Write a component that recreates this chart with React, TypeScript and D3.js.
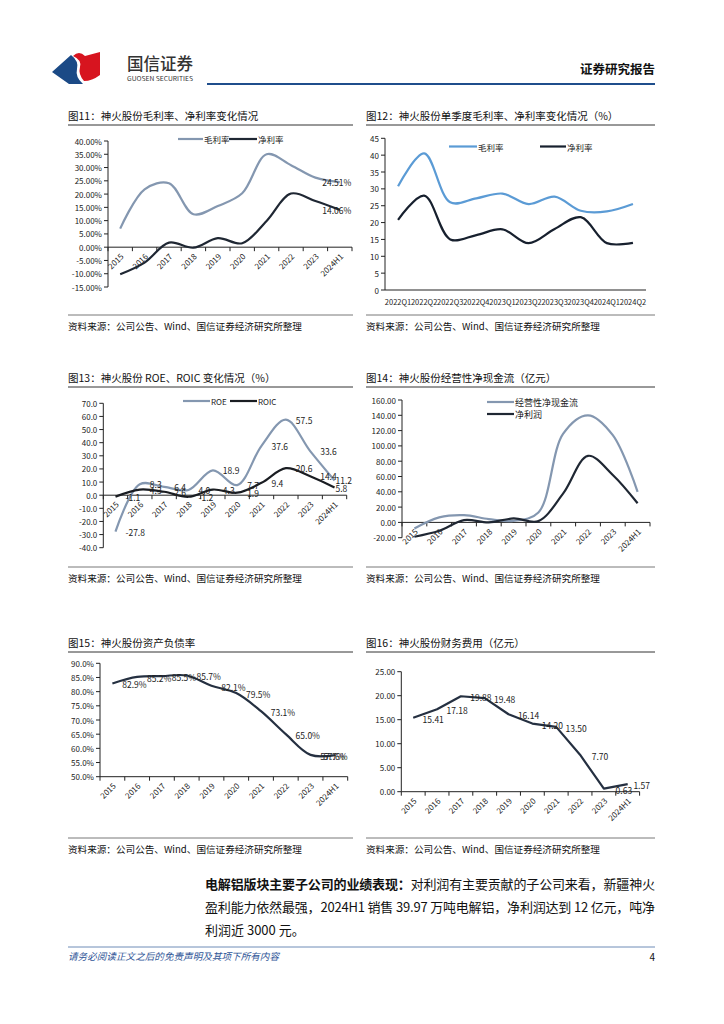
import React from "react";
import * as d3 from "d3";

const FONT = '"Noto Sans CJK SC", "Noto Sans", sans-serif';

// ---------- data ----------
const years = ["2015", "2016", "2017", "2018", "2019", "2020", "2021", "2022", "2023", "2024H1"];
const grossMarginAnnual = [7.0, 21.8, 24.1, 12.4, 15.5, 20.3, 35.0, 30.9, 26.2, 24.51];
const netMarginAnnual = [-10.2, -5.8, 1.7, -0.2, 3.4, 1.5, 9.9, 20.2, 17.4, 14.06];

const quarters = ["2022Q1", "2022Q2", "2022Q3", "2022Q4", "2023Q1", "2023Q2", "2023Q3", "2023Q4", "2024Q1", "2024Q2"];
const grossMarginQ = [30.8, 40.5, 26.0, 27.2, 28.6, 25.5, 27.7, 23.5, 23.3, 25.5];
const netMarginQ = [20.8, 28.0, 15.0, 16.3, 18.0, 13.9, 18.1, 21.6, 13.9, 14.0];

const roe = [-27.8, 8.3, 6.4, 4.0, 18.9, 7.7, 37.6, 57.5, 33.6, 11.2];
const roic = [-1.1, 4.3, 2.6, -1.2, 4.3, 1.9, 9.4, 20.6, 14.4, 5.8];

const opCashFlow = [-8, 6.5, 9.5, 4.3, 2, 13, 116, 140, 114, 40];
const netProfit = [-18.8, -11, 3, 0, 5.2, 1.7, 38, 87, 62, 25];

const debtRatio = [82.9, 85.2, 85.5, 85.7, 82.1, 79.5, 73.1, 65.0, 57.7, 57.6];
const financeCost = [15.41, 17.18, 19.88, 19.48, 16.14, 14.2, 13.5, 7.7, 0.63, 1.57];

const sourceText = "资料来源：公司公告、Wind、国信证券经济研究所整理";

// ---------- chart component ----------
type Lbl = {
  fmt: (v: number) => string;
  dx: number;
  dy: number;
  anchor: "start" | "middle";
  only?: number[];
  lastDx?: number;
};
type SeriesSpec = { values: number[]; color: string; width: number; smooth: boolean; label?: Lbl };

interface ChartProps {
  cats: string[];
  x0: number;
  x1: number;
  yTop: number;
  yBot: number;
  domain: [number, number];
  step: number;
  tickFmt: (v: number) => string;
  series: SeriesSpec[];
  xLabels: "rotated" | "flat";
  xTicks: boolean;
}

function Chart(p: ChartProps) {
  const x = d3.scaleBand<string>().domain(p.cats).range([p.x0, p.x1]);
  const y = d3.scaleLinear().domain(p.domain).range([p.yBot, p.yTop]);
  const ticks = d3.range(p.domain[0], p.domain[1] + p.step / 2, p.step);
  const axisY = y(Math.max(0, p.domain[0]));
  const cx = (c: string) => (x(c) as number) + x.bandwidth() / 2;
  const bounds = [...p.cats.map((c) => x(c) as number), p.x1];
  const n = p.cats.length;
  return (
    <g fontFamily={FONT}>
      {/* y axis */}
      <line x1={p.x0} x2={p.x0} y1={p.yTop} y2={p.yBot} stroke="#222" strokeWidth={1} />
      {ticks.map((t) => (
        <g key={t}>
          <line x1={p.x0 - 4} x2={p.x0} y1={y(t)} y2={y(t)} stroke="#222" strokeWidth={1} />
          <text x={p.x0 - 6} y={y(t)} fontSize={8} textAnchor="end" dominantBaseline="central" fill="#222">
            {p.tickFmt(t)}
          </text>
        </g>
      ))}
      {/* x axis */}
      <line x1={p.x0} x2={p.x1} y1={axisY} y2={axisY} stroke="#222" strokeWidth={1} />
      {p.xTicks &&
        bounds.map((b, i) => (
          <line key={i} x1={b} x2={b} y1={axisY} y2={axisY + 4} stroke="#222" strokeWidth={1} />
        ))}
      {p.cats.map((c) =>
        p.xLabels === "rotated" ? (
          <text
            key={c}
            x={cx(c) + 4}
            y={axisY + 10}
            fontSize={8}
            textAnchor="end"
            fill="#222"
            transform={`rotate(-45 ${cx(c) + 4} ${axisY + 10})`}
          >
            {c}
          </text>
        ) : (
          <text key={c} x={cx(c)} y={axisY + 15} fontSize={7.5} textAnchor="middle" fill="#222">
            {c}
          </text>
        )
      )}
      {/* series */}
      {p.series.map((s, si) => {
        const line = d3
          .line<number>()
          .x((_, i) => cx(p.cats[i]))
          .y((v) => y(v))
          .curve(s.smooth ? d3.curveCatmullRom.alpha(0.5) : d3.curveLinear);
        return (
          <path key={si} d={line(s.values) || ""} fill="none" stroke={s.color} strokeWidth={s.width} strokeLinejoin="round" />
        );
      })}
      {p.series.map((s, si) =>
        s.label
          ? s.values.map((v, i) => {
              const L = s.label!;
              if (L.only && !L.only.includes(i)) return null;
              const dx = i === n - 1 && L.lastDx !== undefined ? L.lastDx : L.dx;
              return (
                <text
                  key={`${si}-${i}`}
                  x={cx(p.cats[i]) + dx}
                  y={y(v) + L.dy}
                  fontSize={8.5}
                  textAnchor={L.anchor}
                  dominantBaseline="central"
                  fill="#222"
                >
                  {L.fmt(v)}
                </text>
              );
            })
          : null
      )}
    </g>
  );
}

function Legend({ x, y, color, label, len = 27, size = 8.5 }: { x: number; y: number; color: string; label: string; len?: number; size?: number }) {
  return (
    <g fontFamily={FONT}>
      <line x1={x} x2={x + len} y1={y} y2={y} stroke={color} strokeWidth={2.2} />
      <text x={x + len + 1} y={y} fontSize={size} dominantBaseline="central" fill="#222">
        {label}
      </text>
    </g>
  );
}

function Frame({ x, w, titleY, title, lineY, srcLineY }: { x: number; w: number; titleY: number; title: string; lineY: number; srcLineY: number }) {
  return (
    <g fontFamily={FONT}>
      <text x={x} y={titleY} fontSize={10.5} fill="#111">
        {title}
      </text>
      <line x1={x} x2={x + w} y1={lineY} y2={lineY} stroke="#333" strokeWidth={1} />
      <line x1={x} x2={x + w} y1={srcLineY} y2={srcLineY} stroke="#555" strokeWidth={0.8} />
      <text x={x} y={srcLineY + 15} fontSize={9.6} fill="#111">
        {sourceText}
      </text>
    </g>
  );
}

const GRAYBLUE = "#8497b0";
const DARK = "#1f2733";
const BRIGHTBLUE = "#5b9bd5";

export default function App() {
  const pct2 = (v: number) => v.toFixed(2) + "%";
  const pct1 = (v: number) => v.toFixed(1) + "%";
  const f1 = (v: number) => v.toFixed(1);
  const f2 = (v: number) => v.toFixed(2);
  const last = [years.length - 1];
  return (
    <svg
      width={724}
      height={1024}
      style={{ position: "absolute", left: 0, top: 0, background: "#fff" }}
      xmlns="http://www.w3.org/2000/svg"
    >
      <rect width={724} height={1024} fill="#fff" />
      {/* header */}
      <path d="M52,72 L71,55 Q79,61 77,69 Q75,77 83,84 L69,84 Z" fill="#1b4a86" />
      <path d="M73,56 Q79,50 85,56 L100,52 L100,75 Q92,81 84,81 Q78,74 80,67 Q82,60 73,56 Z" fill="#d7141f" />
      <text x={127} y={70} fontSize={17} fontFamily={FONT} fontWeight={500} fill="#333" textLength={66} lengthAdjust="spacingAndGlyphs">
        国信证券
      </text>
      <text x={127} y={81} fontSize={6} fontFamily={FONT} fill="#333" textLength={66} lengthAdjust="spacingAndGlyphs">
        GUOSEN SECURITIES
      </text>
      <text x={655} y={74} fontSize={12.5} fontFamily={FONT} fontWeight={700} fill="#111" textAnchor="end">
        证券研究报告
      </text>
      <line x1={207} x2={655} y1={84} y2={84} stroke="#1f4e8c" strokeWidth={2} />

      {/* Chart 11 */}
      <Frame x={68} w={285} titleY={120} title="图11：神火股份毛利率、净利率变化情况" lineY={125} srcLineY={315} />
      <Chart
        cats={years}
        x0={108}
        x1={352}
        yTop={141}
        yBot={287}
        domain={[-15, 40]}
        step={5}
        tickFmt={pct2}
        xLabels="rotated"
        xTicks
        series={[
          { values: grossMarginAnnual, color: GRAYBLUE, width: 2.2, smooth: true, label: { fmt: pct2, dx: -3, dy: 0, anchor: "middle", only: last } },
          { values: netMarginAnnual, color: DARK, width: 2.2, smooth: true, label: { fmt: pct2, dx: -3, dy: 0, anchor: "middle", only: last } },
        ]}
      />
      <Legend x={178} y={139} color={GRAYBLUE} label="毛利率" len={25} />
      <Legend x={229} y={139} color={DARK} label="净利率" len={28} />

      {/* Chart 12 */}
      <Frame x={366} w={289} titleY={120} title="图12：神火股份单季度毛利率、净利率变化情况（%）" lineY={125} srcLineY={315} />
      <Chart
        cats={quarters}
        x0={385}
        x1={646}
        yTop={138.3}
        yBot={290}
        domain={[0, 45]}
        step={5}
        tickFmt={(v) => String(v)}
        xLabels="flat"
        xTicks={false}
        series={[
          { values: grossMarginQ, color: BRIGHTBLUE, width: 2.2, smooth: true },
          { values: netMarginQ, color: "#17202e", width: 2.2, smooth: true },
        ]}
      />
      <Legend x={449} y={146.5} color={BRIGHTBLUE} label="毛利率" len={28} />
      <Legend x={540} y={146.5} color="#17202e" label="净利率" len={26} />

      {/* Chart 13 */}
      <Frame x={68} w={285} titleY={382} title="图13：神火股份 ROE、ROIC 变化情况（%）" lineY={387} srcLineY={567} />
      <Chart
        cats={years}
        x0={103.3}
        x1={346.7}
        yTop={403.3}
        yBot={547.7}
        domain={[-40, 70]}
        step={10}
        tickFmt={f1}
        xLabels="rotated"
        xTicks
        series={[
          { values: roe, color: GRAYBLUE, width: 2.2, smooth: true, label: { fmt: f1, dx: 10, dy: 0, anchor: "start", lastDx: 1 } },
          { values: roic, color: "#1a1d22", width: 2.2, smooth: true, label: { fmt: f1, dx: 10, dy: 0, anchor: "start", lastDx: 1 } },
        ]}
      />
      <Legend x={183} y={401} color={GRAYBLUE} label="ROE" len={27} size={8} />
      <Legend x={230} y={401} color="#1a1d22" label="ROIC" len={27} size={8} />

      {/* Chart 14 */}
      <Frame x={366} w={289} titleY={382} title="图14：神火股份经营性净现金流（亿元）" lineY={387} srcLineY={567} />
      <Chart
        cats={years}
        x0={402}
        x1={650}
        yTop={400}
        yBot={537.7}
        domain={[-20, 160]}
        step={20}
        tickFmt={f2}
        xLabels="rotated"
        xTicks
        series={[
          { values: opCashFlow, color: GRAYBLUE, width: 2.2, smooth: true },
          { values: netProfit, color: DARK, width: 2.2, smooth: true },
        ]}
      />
      <Legend x={487} y={402} color={GRAYBLUE} label="经营性净现金流" len={27} size={9} />
      <Legend x={487} y={414} color={DARK} label="净利润" len={27} size={9} />

      {/* Chart 15 */}
      <Frame x={68} w={285} titleY={647} title="图15：神火股份资产负债率" lineY={652} srcLineY={838} />
      <Chart
        cats={years}
        x0={100}
        x1={347.7}
        yTop={663.3}
        yBot={776.7}
        domain={[50, 90]}
        step={5}
        tickFmt={pct1}
        xLabels="rotated"
        xTicks
        series={[
          { values: debtRatio, color: "#253041", width: 2.2, smooth: true, label: { fmt: pct1, dx: 22, dy: 1, anchor: "middle", lastDx: 0 } },
        ]}
      />

      {/* Chart 16 */}
      <Frame x={366} w={289} titleY={647} title="图16：神火股份财务费用（亿元）" lineY={652} srcLineY={838} />
      <Chart
        cats={years}
        x0={401.3}
        x1={639.6}
        yTop={671.7}
        yBot={791.7}
        domain={[0, 25]}
        step={5}
        tickFmt={f2}
        xLabels="rotated"
        xTicks
        series={[
          { values: financeCost, color: "#253041", width: 2.2, smooth: false, label: { fmt: f2, dx: 20, dy: 1, anchor: "middle", lastDx: 14 } },
        ]}
      />

      {/* paragraph */}
      <g fontFamily={FONT} fontSize={13} fill="#111">
        <text x={205} y={889} textLength={450} lengthAdjust="spacing">
          <tspan fontWeight={700}>电解铝版块主要子公司的业绩表现：</tspan>
          <tspan>对利润有主要贡献的子公司来看，新疆神火</tspan>
        </text>
        <text x={205} y={912} textLength={450} lengthAdjust="spacing">
          盈利能力依然最强，2024H1 销售 39.97 万吨电解铝，净利润达到 12 亿元，吨净
        </text>
        <text x={205} y={935}>利润近 3000 元。</text>
      </g>

      {/* footer */}
      <line x1={68} x2={655} y1={947} y2={947} stroke="#4a6fa5" strokeWidth={0.8} />
      <text x={68} y={960} fontSize={9.6} fontFamily={FONT} fontStyle="italic" fill="#2f5597">
        请务必阅读正文之后的免责声明及其项下所有内容
      </text>
      <text x={655} y={961} fontSize={10} fontFamily={FONT} fill="#111" textAnchor="end">
        4
      </text>
    </svg>
  );
}
